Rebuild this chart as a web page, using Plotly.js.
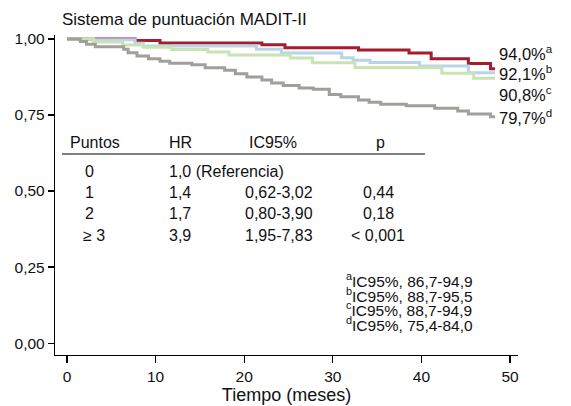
<!DOCTYPE html>
<html>
<head>
<meta charset="utf-8">
<script src="https://cdn.plot.ly/plotly-3.0.1.min.js"></script>
<style>html,body{margin:0;padding:0;background:#fff;}#chart{width:571px;height:406px;}</style>
</head>
<body>
<div id="chart"></div>
<script>
// ---- Data ----
const titleText = 'Sistema de puntuación MADIT-II';
const xTitle = 'Tiempo (meses)';

// Kaplan-Meier step curves: time (months) and survival
const t0 = [0, 7.7, 10.5, 22.0, 24.6, 32.9, 38.6, 41.1, 45.3, 47.8, 48.3];
const s0 = [1.0, 0.995, 0.987, 0.981, 0.971, 0.964, 0.954, 0.935, 0.919, 0.902, 0.902];

const t1 = [0, 3.0, 7.7, 8.6, 21.4, 24.2, 31.0, 32.3, 34.2, 39.8, 45.3, 48.3];
const s1 = [1.0, 0.997, 0.986, 0.977, 0.966, 0.954, 0.938, 0.930, 0.923, 0.911, 0.889, 0.889];

const t2 = [0, 3.0, 6.3, 8.6, 11.8, 15.9, 18.3, 25.2, 27.7, 32.5, 42.3, 45.9, 48.3];
const s2 = [1.0, 0.990, 0.980, 0.973, 0.965, 0.957, 0.947, 0.937, 0.922, 0.906, 0.887, 0.871, 0.871];

const t3 = [0, 1.5, 2.2, 3.2, 6.4, 6.9, 7.9, 9.2, 10.5, 11.6, 14.1, 15.6, 17.8, 19.0, 20.3, 22.0, 23.1, 24.4, 26.2, 27.8, 29.6, 30.9, 32.9, 34.1, 35.4, 38.3, 41.5, 44.1, 45.3, 47.8, 48.3];
const s3 = [1.0, 0.992, 0.983, 0.974, 0.966, 0.955, 0.944, 0.935, 0.927, 0.920, 0.915, 0.905, 0.897, 0.886, 0.875, 0.865, 0.855, 0.847, 0.839, 0.835, 0.817, 0.810, 0.799, 0.792, 0.785, 0.780, 0.772, 0.763, 0.753, 0.744, 0.744];

const endLabels = ['94,0%', '92,1%', '90,8%', '79,7%'];
const endSups = ['a', 'b', 'c', 'd'];

// Table
const tableHeader = ['Puntos', 'HR', 'IC95%', 'p'];
const puntos = ['0', '1', '2', '≥ 3'];
const hr = ['1,0 (Referencia)', '1,4', '1,7', '3,9'];
const ic95 = ['', '0,62-3,02', '0,80-3,90', '1,95-7,83'];
const pvals = ['', '0,44', '0,18', '< 0,001'];

// Footnotes
const footSups = ['a', 'b', 'c', 'd'];
const footTexts = ['IC95%, 86,7-94,9', 'IC95%, 88,7-95,5', 'IC95%, 88,7-94,9', 'IC95%, 75,4-84,0'];

// ---- Styling / layout helpers ----
const FONT = 'Liberation Sans, Arial, Helvetica, sans-serif';
const colors = ['#a51d2d', '#b9d4ea', '#c9e4b4', '#a29e9b'];
const L = 55, R = 518, T = 35, B = 355;
const px = x => (x - L) / (R - L);
const py = y => (B - y) / (B - T);

const series = [[t0, s0], [t1, s1], [t2, s2], [t3, s3]];
const data = series.map((s, i) => ({
  x: s[0], y: s[1], type: 'scatter', mode: 'lines',
  line: {shape: 'hv', width: 3, color: colors[i]},
  hoverinfo: 'skip', showlegend: false
}));

const ann = [];
const txt = (text, xpx, ypx, xanchor, size) => ann.push({
  text, x: px(xpx), y: py(ypx), xref: 'paper', yref: 'paper',
  xanchor: xanchor, yanchor: 'middle', showarrow: false,
  font: {family: FONT, size: size || 16, color: '#111'}
});

// end labels
const endY = [53, 73, 94, 117];
endLabels.forEach((l, i) => txt(l + '<sup>' + endSups[i] + '</sup>', 497, endY[i], 'left', 16.5));

// table header
txt(tableHeader[0], 68, 142, 'left', 16);
txt(tableHeader[1], 167, 142, 'left', 16);
txt(tableHeader[2], 273, 142, 'center', 16);
txt(tableHeader[3], 380, 142, 'center', 16);
const rowY = [171, 192, 213, 235];
puntos.forEach((p, i) => {
  txt(p, i === 3 ? 81 : 83, rowY[i], 'left', 16);
  txt(hr[i], 167, rowY[i], 'left', 16);
  if (ic95[i]) txt(ic95[i], 279, rowY[i], 'center', 16);
  if (pvals[i]) txt(pvals[i], 378, rowY[i], 'center', 16);
});

// footnotes
const footY = [280, 294.5, 309, 323.5];
footTexts.forEach((f, i) => txt('<sup>' + footSups[i] + '</sup>' + f, 344, footY[i], 'left', 15.5));

const layout = {
  width: 571, height: 406,
  margin: {l: L, r: 571 - R, t: T, b: 406 - B},
  paper_bgcolor: '#fff', plot_bgcolor: '#fff',
  separators: ',.',
  font: {family: FONT, size: 16, color: '#111'},
  title: {
    text: titleText, xref: 'paper', x: px(62), xanchor: 'left',
    yref: 'container', y: 1 - 19 / 406, yanchor: 'middle',
    font: {family: FONT, size: 17, color: '#111'}
  },
  xaxis: {
    range: [-1.35, 50.9], tickvals: [0, 10, 20, 30, 40, 50],
    showline: true, linecolor: '#000', linewidth: 1.2,
    ticks: 'outside', ticklen: 7, tickcolor: '#000', tickwidth: 1.2,
    showgrid: false, zeroline: false,
    tickfont: {family: FONT, size: 15.5, color: '#111'},
    title: {text: xTitle, standoff: 3, font: {family: FONT, size: 18, color: '#111'}}
  },
  yaxis: {
    range: [-0.039, 1.013], tickvals: [0, 0.25, 0.5, 0.75, 1], tickformat: '.2f',
    showline: true, linecolor: '#000', linewidth: 1.2,
    ticks: 'outside', ticklen: 6, tickcolor: '#000', tickwidth: 1.2,
    showgrid: false, zeroline: false,
    tickfont: {family: FONT, size: 15.5, color: '#111'}
  },
  shapes: [{
    type: 'line', xref: 'paper', yref: 'paper',
    x0: px(62), x1: px(425), y0: py(154), y1: py(154),
    line: {color: '#000', width: 1.2}
  }],
  annotations: ann
};

Plotly.newPlot('chart', data, layout, {staticPlot: true, displayModeBar: false});
</script>
</body>
</html>
